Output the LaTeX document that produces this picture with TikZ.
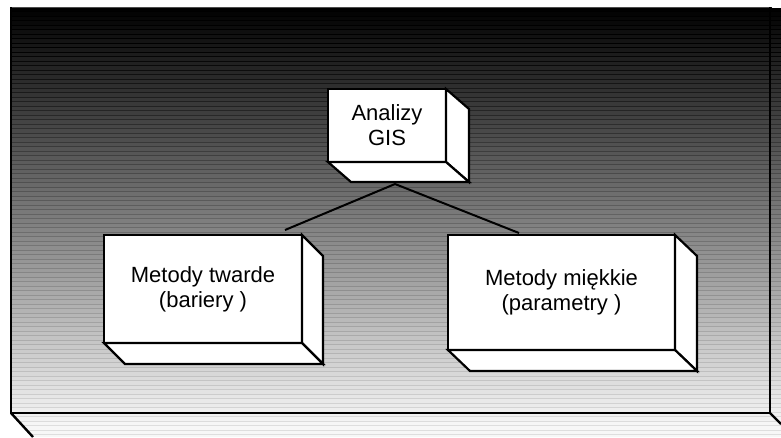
\documentclass[tikz,border=0pt]{standalone}
\usepackage{fontspec}
\setmainfont{Liberation Sans}
\usetikzlibrary{calc}

\tikzset{
  face/.style={draw=black, fill=white, line width=2.2pt, line join=miter},
  frontface/.style={face, rectangle, inner sep=0pt, outer sep=0pt, align=center,
    font=\fontsize{22}{25}\selectfont},
  rim/.style={black, line width=2.4pt},
  rimtop/.style={black!70, line width=0.9pt},
  link/.style={black, line width=2pt},
}

% side and bottom faces of a solid block whose front face is node #1
\newcommand\blockfaces[3]{%
  \draw[face] (#1.north east) -- ($(#1.north east)+(#2,#3)$)
    -- ($(#1.south east)+(#2,#3)$) -- (#1.south east) -- cycle;
  \draw[face] (#1.south west) -- ($(#1.south west)+(#2,#3)$)
    -- ($(#1.south east)+(#2,#3)$) -- (#1.south east) -- cycle;
}

\begin{document}
\begin{tikzpicture}[x=1pt, y=-1pt]
  \useasboundingbox (0,0) rectangle (781,437);
  \fill[white] (0,0) rectangle (781,437);

  % large platform: banded grey shading from black to near white
  \begin{scope}
    \clip (11,7) -- (771,7) -- (772,8) -- (781,8) -- (781,437) -- (33,437) -- (11,413) -- cycle;
    \foreach \i in {0,...,96} {
      \pgfmathsetmacro\ya{7+4.5*\i}
      \pgfmathsetmacro\p{min(97,(\ya+2.25-7)/406*94)}
      \pgfmathsetmacro\q{max(0,\p-10)}
      \fill[white!\p!black] (0,\ya) rectangle (781,\ya+4.6);
      \draw[white!\q!black, line width=0.7pt] (0,\ya) -- (781,\ya);
    }
  \end{scope}

  % platform outline
  \coordinate (ptl) at (11,7);
  \coordinate (ptr) at (771,7);
  \coordinate (pbl) at (11,413);
  \coordinate (pbr) at (770,413);
  \draw[rimtop] (ptl) -- (ptr);
  \draw[rim] (ptl) -- (pbl) -- (pbr) -- (770,7);
  \draw[rim] (pbl) -- (33,437);
  \draw[rim] (pbr) -- (781,424);

  % blocks
  \node[frontface, minimum width=118pt, minimum height=73pt] (gis) at (387,125.5)
    {Analizy\\GIS};
  \blockfaces{gis}{23}{20}

  \node[frontface, minimum width=198pt, minimum height=108pt] (hard) at (203,289)
    {Metody twarde\\(bariery )};
  \blockfaces{hard}{21}{21}

  \node[frontface, minimum width=227pt, minimum height=115pt] (soft) at (561.5,292.5)
    {Metody miękkie\\(parametry )};
  \blockfaces{soft}{22}{21}

  % connectors
  \coordinate (apex) at (395,184);
  \coordinate (hardtop) at (285,230);
  \coordinate (softtop) at (519,233);
  \draw[link] (apex) -- (hardtop);
  \draw[link] (apex) -- (softtop);
\end{tikzpicture}
\end{document}
